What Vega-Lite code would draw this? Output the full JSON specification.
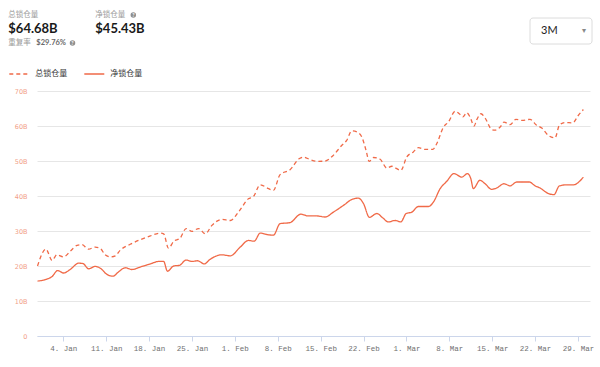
{
  "$schema": "https://vega.github.io/schema/vega-lite/v6.json",
  "background": "white",
  "padding": {"left": 8, "top": 11, "right": 0, "bottom": 0},
  "config": {
    "view": {"stroke": null},
    "font": "Lato"
  },
  "resolve": {"legend": {"color": "independent", "strokeDash": "independent"}},
  "datasets": {
    "header": [
      {"col": "a", "row": "label", "part": "text", "text": "总锁仓量"},
      {"col": "b", "row": "label", "part": "text", "text": "净锁仓量"},
      {"col": "a", "row": "amount", "part": "text", "text": "$64.68B"},
      {"col": "b", "row": "amount", "part": "text", "text": "$45.43B"},
      {"col": "a", "row": "ratio", "part": "text", "text": "重复率"},
      {"col": "a", "row": "ratio", "part": "value", "text": "$29.76%"},
      {"col": "b", "row": "label", "part": "icon", "text": "?"},
      {"col": "a", "row": "ratio", "part": "icon", "text": "?"}
    ],
    "series": [
      {"date": "2020-12-30T19:00", "series": "总锁仓量", "value": 20.0},
      {"date": "2021-01-01T04:00", "series": "总锁仓量", "value": 24.8},
      {"date": "2021-01-02T04:00", "series": "总锁仓量", "value": 21.6},
      {"date": "2021-01-02T23:00", "series": "总锁仓量", "value": 23.2},
      {"date": "2021-01-04T01:00", "series": "总锁仓量", "value": 22.6},
      {"date": "2021-01-05T03:00", "series": "总锁仓量", "value": 24.2},
      {"date": "2021-01-06T06:00", "series": "总锁仓量", "value": 25.9},
      {"date": "2021-01-07T01:00", "series": "总锁仓量", "value": 26.1},
      {"date": "2021-01-08T03:00", "series": "总锁仓量", "value": 24.8},
      {"date": "2021-01-09T05:00", "series": "总锁仓量", "value": 25.4},
      {"date": "2021-01-10T01:00", "series": "总锁仓量", "value": 25.0},
      {"date": "2021-01-10T20:00", "series": "总锁仓量", "value": 23.2},
      {"date": "2021-01-11T16:00", "series": "总锁仓量", "value": 22.6},
      {"date": "2021-01-12T12:00", "series": "总锁仓量", "value": 22.9},
      {"date": "2021-01-13T07:00", "series": "总锁仓量", "value": 24.5},
      {"date": "2021-01-14T22:00", "series": "总锁仓量", "value": 26.2},
      {"date": "2021-01-16T13:00", "series": "总锁仓量", "value": 27.5},
      {"date": "2021-01-18T05:00", "series": "总锁仓量", "value": 28.6},
      {"date": "2021-01-19T20:00", "series": "总锁仓量", "value": 29.4},
      {"date": "2021-01-20T09:00", "series": "总锁仓量", "value": 29.2},
      {"date": "2021-01-21T04:00", "series": "总锁仓量", "value": 25.1},
      {"date": "2021-01-22T00:00", "series": "总锁仓量", "value": 27.0},
      {"date": "2021-01-23T02:00", "series": "总锁仓量", "value": 28.0},
      {"date": "2021-01-24T01:00", "series": "总锁仓量", "value": 30.7},
      {"date": "2021-01-25T00:00", "series": "总锁仓量", "value": 29.9},
      {"date": "2021-01-26T02:00", "series": "总锁仓量", "value": 30.7},
      {"date": "2021-01-27T04:00", "series": "总锁仓量", "value": 29.2},
      {"date": "2021-01-28T06:00", "series": "总锁仓量", "value": 31.6},
      {"date": "2021-01-29T21:00", "series": "总锁仓量", "value": 33.3},
      {"date": "2021-01-31T06:00", "series": "总锁仓量", "value": 33.0},
      {"date": "2021-02-01T14:00", "series": "总锁仓量", "value": 35.4},
      {"date": "2021-02-03T05:00", "series": "总锁仓量", "value": 39.2},
      {"date": "2021-02-04T01:00", "series": "总锁仓量", "value": 39.9},
      {"date": "2021-02-05T03:00", "series": "总锁仓量", "value": 43.2},
      {"date": "2021-02-06T12:00", "series": "总锁仓量", "value": 42.1},
      {"date": "2021-02-07T07:00", "series": "总锁仓量", "value": 41.6},
      {"date": "2021-02-08T09:00", "series": "总锁仓量", "value": 46.1},
      {"date": "2021-02-10T00:00", "series": "总锁仓量", "value": 47.5},
      {"date": "2021-02-11T13:00", "series": "总锁仓量", "value": 50.7},
      {"date": "2021-02-12T05:00", "series": "总锁仓量", "value": 51.1},
      {"date": "2021-02-13T07:00", "series": "总锁仓量", "value": 50.4},
      {"date": "2021-02-14T14:00", "series": "总锁仓量", "value": 49.9},
      {"date": "2021-02-15T18:00", "series": "总锁仓量", "value": 50.0},
      {"date": "2021-02-17T01:00", "series": "总锁仓量", "value": 51.6},
      {"date": "2021-02-18T11:00", "series": "总锁仓量", "value": 54.5},
      {"date": "2021-02-19T06:00", "series": "总锁仓量", "value": 55.9},
      {"date": "2021-02-20T02:00", "series": "总锁仓量", "value": 58.6},
      {"date": "2021-02-20T22:00", "series": "总锁仓量", "value": 58.3},
      {"date": "2021-02-21T17:00", "series": "总锁仓量", "value": 56.9},
      {"date": "2021-02-22T10:00", "series": "总锁仓量", "value": 53.0},
      {"date": "2021-02-22T22:00", "series": "总锁仓量", "value": 49.9},
      {"date": "2021-02-23T15:00", "series": "总锁仓量", "value": 51.0},
      {"date": "2021-02-24T17:00", "series": "总锁仓量", "value": 50.5},
      {"date": "2021-02-25T19:00", "series": "总锁仓量", "value": 48.0},
      {"date": "2021-02-26T15:00", "series": "总锁仓量", "value": 48.5},
      {"date": "2021-02-27T10:00", "series": "总锁仓量", "value": 47.8},
      {"date": "2021-02-28T02:00", "series": "总锁仓量", "value": 47.3},
      {"date": "2021-03-01T01:00", "series": "总锁仓量", "value": 51.1},
      {"date": "2021-03-02T03:00", "series": "总锁仓量", "value": 52.6},
      {"date": "2021-03-02T23:00", "series": "总锁仓量", "value": 53.8},
      {"date": "2021-03-04T01:00", "series": "总锁仓量", "value": 53.3},
      {"date": "2021-03-05T07:00", "series": "总锁仓量", "value": 53.3},
      {"date": "2021-03-05T23:00", "series": "总锁仓量", "value": 55.0},
      {"date": "2021-03-07T01:00", "series": "总锁仓量", "value": 59.7},
      {"date": "2021-03-07T20:00", "series": "总锁仓量", "value": 61.1},
      {"date": "2021-03-08T23:00", "series": "总锁仓量", "value": 64.2},
      {"date": "2021-03-09T15:00", "series": "总锁仓量", "value": 63.5},
      {"date": "2021-03-10T05:00", "series": "总锁仓量", "value": 62.6},
      {"date": "2021-03-10T20:00", "series": "总锁仓量", "value": 63.8},
      {"date": "2021-03-11T09:00", "series": "总锁仓量", "value": 62.6},
      {"date": "2021-03-12T01:00", "series": "总锁仓量", "value": 60.0},
      {"date": "2021-03-12T12:00", "series": "总锁仓量", "value": 61.9},
      {"date": "2021-03-13T04:00", "series": "总锁仓量", "value": 63.5},
      {"date": "2021-03-13T20:00", "series": "总锁仓量", "value": 62.3},
      {"date": "2021-03-14T22:00", "series": "总锁仓量", "value": 59.0},
      {"date": "2021-03-15T11:00", "series": "总锁仓量", "value": 58.8},
      {"date": "2021-03-16T07:00", "series": "总锁仓量", "value": 59.7},
      {"date": "2021-03-16T22:00", "series": "总锁仓量", "value": 61.1},
      {"date": "2021-03-17T22:00", "series": "总锁仓量", "value": 60.4},
      {"date": "2021-03-18T21:00", "series": "总锁仓量", "value": 61.9},
      {"date": "2021-03-19T20:00", "series": "总锁仓量", "value": 61.6},
      {"date": "2021-03-21T04:00", "series": "总锁仓量", "value": 61.9},
      {"date": "2021-03-22T06:00", "series": "总锁仓量", "value": 60.2},
      {"date": "2021-03-23T02:00", "series": "总锁仓量", "value": 59.4},
      {"date": "2021-03-24T04:00", "series": "总锁仓量", "value": 57.3},
      {"date": "2021-03-25T06:00", "series": "总锁仓量", "value": 56.6},
      {"date": "2021-03-25T23:00", "series": "总锁仓量", "value": 60.2},
      {"date": "2021-03-26T21:00", "series": "总锁仓量", "value": 61.0},
      {"date": "2021-03-28T03:00", "series": "总锁仓量", "value": 60.9},
      {"date": "2021-03-29T01:00", "series": "总锁仓量", "value": 63.0},
      {"date": "2021-03-29T21:00", "series": "总锁仓量", "value": 64.7},

      {"date": "2020-12-30T19:00", "series": "净锁仓量", "value": 15.7},
      {"date": "2021-01-01T01:00", "series": "净锁仓量", "value": 16.1},
      {"date": "2021-01-02T04:00", "series": "净锁仓量", "value": 17.0},
      {"date": "2021-01-03T02:00", "series": "净锁仓量", "value": 18.7},
      {"date": "2021-01-04T01:00", "series": "净锁仓量", "value": 18.0},
      {"date": "2021-01-05T03:00", "series": "净锁仓量", "value": 19.0},
      {"date": "2021-01-06T12:00", "series": "净锁仓量", "value": 20.8},
      {"date": "2021-01-07T05:00", "series": "净锁仓量", "value": 20.7},
      {"date": "2021-01-08T03:00", "series": "净锁仓量", "value": 19.2},
      {"date": "2021-01-09T05:00", "series": "净锁仓量", "value": 19.9},
      {"date": "2021-01-10T04:00", "series": "净锁仓量", "value": 19.2},
      {"date": "2021-01-11T03:00", "series": "净锁仓量", "value": 17.6},
      {"date": "2021-01-12T03:00", "series": "净锁仓量", "value": 17.1},
      {"date": "2021-01-13T00:00", "series": "净锁仓量", "value": 18.3},
      {"date": "2021-01-14T03:00", "series": "净锁仓量", "value": 19.5},
      {"date": "2021-01-15T05:00", "series": "净锁仓量", "value": 19.0},
      {"date": "2021-01-16T13:00", "series": "净锁仓量", "value": 19.7},
      {"date": "2021-01-18T05:00", "series": "净锁仓量", "value": 20.6},
      {"date": "2021-01-19T13:00", "series": "净锁仓量", "value": 21.3},
      {"date": "2021-01-20T09:00", "series": "净锁仓量", "value": 21.3},
      {"date": "2021-01-21T00:00", "series": "净锁仓量", "value": 18.5},
      {"date": "2021-01-22T00:00", "series": "净锁仓量", "value": 20.0},
      {"date": "2021-01-22T23:00", "series": "净锁仓量", "value": 20.2},
      {"date": "2021-01-24T01:00", "series": "净锁仓量", "value": 21.7},
      {"date": "2021-01-25T00:00", "series": "净锁仓量", "value": 21.3},
      {"date": "2021-01-25T22:00", "series": "净锁仓量", "value": 21.5},
      {"date": "2021-01-27T00:00", "series": "净锁仓量", "value": 20.6},
      {"date": "2021-01-27T23:00", "series": "净锁仓量", "value": 21.9},
      {"date": "2021-01-29T21:00", "series": "净锁仓量", "value": 23.2},
      {"date": "2021-01-31T06:00", "series": "净锁仓量", "value": 22.9},
      {"date": "2021-02-01T21:00", "series": "净锁仓量", "value": 25.4},
      {"date": "2021-02-03T05:00", "series": "净锁仓量", "value": 27.3},
      {"date": "2021-02-04T04:00", "series": "净锁仓量", "value": 27.1},
      {"date": "2021-02-05T03:00", "series": "净锁仓量", "value": 29.4},
      {"date": "2021-02-06T05:00", "series": "净锁仓量", "value": 29.0},
      {"date": "2021-02-07T07:00", "series": "净锁仓量", "value": 28.8},
      {"date": "2021-02-08T09:00", "series": "净锁仓量", "value": 32.1},
      {"date": "2021-02-10T00:00", "series": "净锁仓量", "value": 32.4},
      {"date": "2021-02-11T18:00", "series": "净锁仓量", "value": 34.8},
      {"date": "2021-02-13T00:00", "series": "净锁仓量", "value": 34.3},
      {"date": "2021-02-14T09:00", "series": "净锁仓量", "value": 34.3},
      {"date": "2021-02-15T18:00", "series": "净锁仓量", "value": 34.0},
      {"date": "2021-02-17T02:00", "series": "净锁仓量", "value": 35.4},
      {"date": "2021-02-18T17:00", "series": "净锁仓量", "value": 37.3},
      {"date": "2021-02-20T02:00", "series": "净锁仓量", "value": 39.0},
      {"date": "2021-02-21T04:00", "series": "净锁仓量", "value": 39.4},
      {"date": "2021-02-22T00:00", "series": "净锁仓量", "value": 37.8},
      {"date": "2021-02-22T23:00", "series": "净锁仓量", "value": 33.9},
      {"date": "2021-02-24T04:00", "series": "净锁仓量", "value": 35.0},
      {"date": "2021-02-25T04:00", "series": "净锁仓量", "value": 33.7},
      {"date": "2021-02-26T01:00", "series": "净锁仓量", "value": 32.6},
      {"date": "2021-02-27T04:00", "series": "净锁仓量", "value": 33.0},
      {"date": "2021-02-28T02:00", "series": "净锁仓量", "value": 32.6},
      {"date": "2021-02-28T23:00", "series": "净锁仓量", "value": 35.0},
      {"date": "2021-03-01T21:00", "series": "净锁仓量", "value": 35.4},
      {"date": "2021-03-02T23:00", "series": "净锁仓量", "value": 37.0},
      {"date": "2021-03-04T14:00", "series": "净锁仓量", "value": 37.0},
      {"date": "2021-03-05T10:00", "series": "净锁仓量", "value": 38.3},
      {"date": "2021-03-06T12:00", "series": "净锁仓量", "value": 42.1},
      {"date": "2021-03-07T14:00", "series": "净锁仓量", "value": 44.2},
      {"date": "2021-03-08T18:00", "series": "净锁仓量", "value": 46.4},
      {"date": "2021-03-10T01:00", "series": "净锁仓量", "value": 45.4},
      {"date": "2021-03-10T23:00", "series": "净锁仓量", "value": 46.4},
      {"date": "2021-03-11T12:00", "series": "净锁仓量", "value": 45.0},
      {"date": "2021-03-11T22:00", "series": "净锁仓量", "value": 42.1},
      {"date": "2021-03-13T00:00", "series": "净锁仓量", "value": 44.5},
      {"date": "2021-03-13T20:00", "series": "净锁仓量", "value": 43.5},
      {"date": "2021-03-14T22:00", "series": "净锁仓量", "value": 41.9},
      {"date": "2021-03-15T18:00", "series": "净锁仓量", "value": 42.3},
      {"date": "2021-03-16T22:00", "series": "净锁仓量", "value": 43.5},
      {"date": "2021-03-17T22:00", "series": "净锁仓量", "value": 42.9},
      {"date": "2021-03-19T00:00", "series": "净锁仓量", "value": 44.0},
      {"date": "2021-03-21T01:00", "series": "净锁仓量", "value": 44.0},
      {"date": "2021-03-22T00:00", "series": "净锁仓量", "value": 42.9},
      {"date": "2021-03-22T19:00", "series": "净锁仓量", "value": 42.3},
      {"date": "2021-03-24T04:00", "series": "净锁仓量", "value": 40.7},
      {"date": "2021-03-25T02:00", "series": "净锁仓量", "value": 40.4},
      {"date": "2021-03-25T23:00", "series": "净锁仓量", "value": 42.9},
      {"date": "2021-03-27T04:00", "series": "净锁仓量", "value": 43.2},
      {"date": "2021-03-28T06:00", "series": "净锁仓量", "value": 43.2},
      {"date": "2021-03-29T21:00", "series": "净锁仓量", "value": 45.4}
    ]
  },
  "vconcat": [
    {
      "hconcat": [
        {
          "width": 87,
          "height": 28,
          "data": {"name": "header"},
          "encoding": {
            "x": {"field": "col", "type": "nominal", "scale": {"type": "point", "padding": 0, "domain": ["a", "b"]}, "axis": null},
            "y": {"field": "row", "type": "nominal", "scale": {"type": "point", "padding": 0, "domain": ["label", "amount", "ratio"]}, "axis": null},
            "text": {"field": "text"}
          },
          "layer": [
            {"transform": [{"filter": "datum.part == 'text' && datum.row == 'label'"}], "mark": {"type": "text", "align": "left", "baseline": "middle", "dx": -28.7, "fontSize": 7.5, "color": "#9a9a9a", "font": "Noto Sans CJK SC"}},
            {"transform": [{"filter": "datum.part == 'text' && datum.row == 'amount'"}], "mark": {"type": "text", "align": "left", "baseline": "middle", "dx": -28.7, "dy": 0, "fontSize": 13, "fontWeight": "bold", "color": "#1a1a1a", "font": "Lato"}},
            {"transform": [{"filter": "datum.part == 'text' && datum.row == 'ratio'"}], "mark": {"type": "text", "align": "left", "baseline": "middle", "dx": -28.7, "fontSize": 7.5, "color": "#9a9a9a", "font": "Noto Sans CJK SC"}},
            {"transform": [{"filter": "datum.part == 'value'"}], "mark": {"type": "text", "align": "left", "baseline": "middle", "dx": -0.7, "fontSize": 7.5, "fontWeight": "bold", "color": "#6a6a6a", "font": "Lato"}},
            {"transform": [{"filter": "datum.part == 'icon' && datum.col == 'b'"}], "mark": {"type": "circle", "size": 30, "opacity": 1, "color": "#8f8f8f", "xOffset": 9.3}},
            {"transform": [{"filter": "datum.part == 'icon' && datum.col == 'b'"}], "mark": {"type": "text", "align": "center", "baseline": "middle", "dx": 9.3, "dy": 0.3, "fontSize": 5, "fontWeight": "bold", "color": "white", "font": "Lato"}},
            {"transform": [{"filter": "datum.part == 'icon' && datum.col == 'a'"}], "mark": {"type": "circle", "size": 30, "opacity": 1, "color": "#8f8f8f", "xOffset": 35.5}},
            {"transform": [{"filter": "datum.part == 'icon' && datum.col == 'a'"}], "mark": {"type": "text", "align": "center", "baseline": "middle", "dx": 35.5, "dy": 0.3, "fontSize": 5, "fontWeight": "bold", "color": "white", "font": "Lato"}}
          ]
        },
        {
          "width": 62,
          "height": 29,
          "data": {"values": [{"label": "3M"}]},
          "layer": [
            {"mark": {"type": "rect", "fill": "white", "stroke": "#dcdcdc", "strokeWidth": 1, "cornerRadius": 3, "yOffset": 3}, "encoding": {}},
            {"mark": {"type": "text", "align": "left", "baseline": "middle", "dx": -20, "dy": 1.5, "fontSize": 11, "font": "Lato", "color": "#222222"}, "encoding": {"text": {"field": "label"}}},
            {"mark": {"type": "text", "text": "▾", "align": "center", "baseline": "middle", "dx": 23, "dy": 1.5, "fontSize": 8, "color": "#888888"}, "encoding": {}}
          ]
        }
      ],
      "spacing": 406,
      "bounds": "flush"
    },
    {
      "width": 553,
      "height": 245,
      "data": {"name": "series"},
      "mark": {"type": "line", "interpolate": "monotone", "strokeWidth": 1.3},
      "encoding": {
        "x": {
          "field": "date",
          "type": "temporal",
          "scale": {"domain": [{"year": 2020, "month": 12, "date": 30, "hours": 17}, {"year": 2021, "month": 3, "date": 30, "hours": 23}]},
          "axis": {
            "title": null,
            "format": "%-d. %b",
            "values": [
              {"year": 2021, "month": 1, "date": 4}, {"year": 2021, "month": 1, "date": 11}, {"year": 2021, "month": 1, "date": 18}, {"year": 2021, "month": 1, "date": 25},
              {"year": 2021, "month": 2, "date": 1}, {"year": 2021, "month": 2, "date": 8}, {"year": 2021, "month": 2, "date": 15}, {"year": 2021, "month": 2, "date": 22},
              {"year": 2021, "month": 3, "date": 1}, {"year": 2021, "month": 3, "date": 8}, {"year": 2021, "month": 3, "date": 15}, {"year": 2021, "month": 3, "date": 22}, {"year": 2021, "month": 3, "date": 29}
            ],
            "grid": false,
            "domainColor": "#ccd6eb",
            "tickColor": "#ccd6eb",
            "tickSize": 5,
            "labelPadding": 3,
            "labelFont": "Liberation Mono",
            "labelFontSize": 7.5,
            "labelColor": "#707070",
            "labelOverlap": false,
            "labelFlush": false
          }
        },
        "y": {
          "field": "value",
          "type": "quantitative",
          "scale": {"domain": [0, 70], "nice": false},
          "axis": {
            "title": null,
            "values": [0, 10, 20, 30, 40, 50, 60, 70],
            "labelExpr": "datum.value == 0 ? '0' : datum.value + 'B'",
            "domain": false,
            "ticks": false,
            "gridColor": "#e6e6e6",
            "labelColor": "#f2a088",
            "labelFont": "DejaVu Sans",
            "labelFontSize": 6.5,
            "labelPadding": 10
          }
        },
        "color": {
          "field": "series",
          "type": "nominal",
          "scale": {"domain": ["总锁仓量", "净锁仓量"], "range": ["#f06a48", "#f06a48"]},
          "legend": {
            "title": null,
            "orient": "none",
            "legendX": -28.7,
            "legendY": -28,
            "direction": "horizontal",
            "symbolType": "stroke",
            "symbolSize": 400,
            "symbolStrokeWidth": 1.5,
            "labelFont": "Noto Sans CJK SC",
            "labelFontSize": 8,
            "labelColor": "#333333",
            "labelOffset": 5,
            "columnPadding": 14
          }
        },
        "strokeDash": {
          "field": "series",
          "type": "nominal",
          "scale": {"domain": ["总锁仓量", "净锁仓量"], "range": [[4, 3], [1, 0]]},
          "legend": {
            "title": null,
            "orient": "none",
            "legendX": -28.7,
            "legendY": -28,
            "direction": "horizontal",
            "symbolType": "stroke",
            "symbolSize": 400,
            "symbolStrokeWidth": 1.5,
            "labelFont": "Noto Sans CJK SC",
            "labelFontSize": 8,
            "labelColor": "#333333",
            "labelOffset": 5,
            "columnPadding": 14
          }
        }
      }
    }
  ],
  "spacing": 76,
  "bounds": "flush"
}
